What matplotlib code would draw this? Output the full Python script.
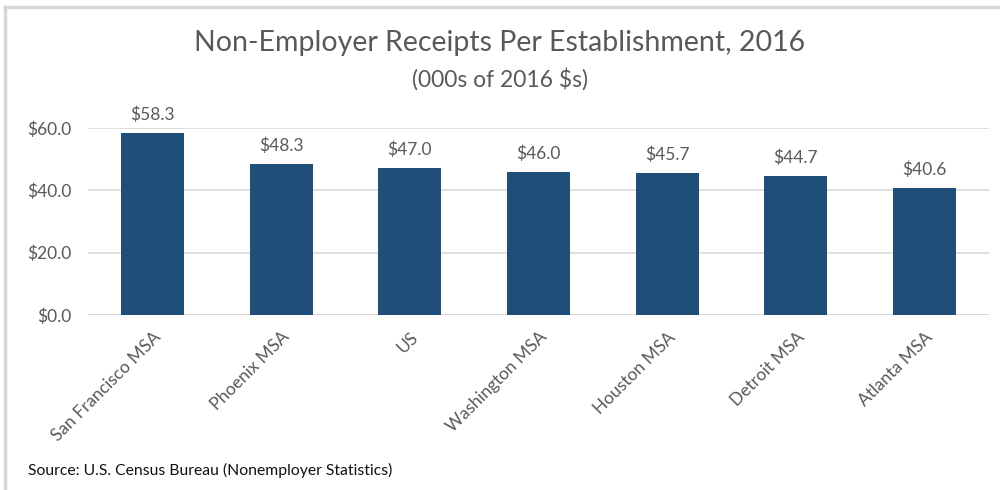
import matplotlib
matplotlib.use("Agg")
import matplotlib.pyplot as plt
from matplotlib.lines import Line2D

regions = ["San Francisco MSA", "Phoenix MSA", "US", "Washington MSA",
           "Houston MSA", "Detroit MSA", "Atlanta MSA"]
receipts = [58.3, 48.3, 47.0, 46.0, 45.7, 44.7, 40.6]
y_ticks = [0, 20, 40, 60]

plt.rcParams['font.family'] = ['Lato', 'DejaVu Sans']

bar_color = '#1F4E79'
text_color = '#595959'
grid_color = '#D9D9D9'

fig = plt.figure(figsize=(10, 4.9), dpi=100)
ax = fig.add_axes([0.088, 0.357, 0.901, 0.382])

x = list(range(len(regions)))
bars = ax.bar(x, receipts, width=0.49, color=bar_color, zorder=3)

for b, v in zip(bars, receipts):
    ax.text(b.get_x() + b.get_width() / 2, v + 3.2, f"${v:.1f}",
            ha='center', va='bottom', fontsize=12.5, color=text_color)

ax.set_xlim(-0.5, len(regions) - 0.5)
ax.set_ylim(0, 60)
ax.set_yticks(y_ticks)
ax.set_yticklabels([f"${t:.1f}" for t in y_ticks])
ax.set_xticks(x)
ax.set_xticklabels(regions, rotation=45, ha='right', rotation_mode='anchor')
ax.grid(axis='y', color=grid_color, linewidth=1.2, zorder=0)
ax.tick_params(axis='both', length=0, labelsize=12.5, colors=text_color)
ax.tick_params(axis='x', pad=10)
ax.tick_params(axis='y', pad=12)
for s in ax.spines.values():
    s.set_visible(False)
ax.axhline(0, color=grid_color, linewidth=1.5, zorder=2)

fig.text(0.5, 0.912, "Non-Employer Receipts Per Establishment, 2016",
         ha='center', va='center', fontsize=20.5, color=text_color)
fig.text(0.5, 0.838, "(000s of 2016 $s)", ha='center', va='center',
         fontsize=16.5, color=text_color)
fig.text(0.028, 0.04, "Source: U.S. Census Bureau (Nonemployer Statistics)",
         ha='left', va='center', fontsize=11.3, color='#111111')

# screenshot border on top and left
fig.add_artist(Line2D([0.005, 1.0], [0.985, 0.985], color='#D6D6D6', linewidth=2.5,
                      transform=fig.transFigure))
fig.add_artist(Line2D([0.005, 0.005], [0.0, 0.985], color='#D6D6D6', linewidth=2.5,
                      transform=fig.transFigure))

fig.savefig("out.png", dpi=100)
